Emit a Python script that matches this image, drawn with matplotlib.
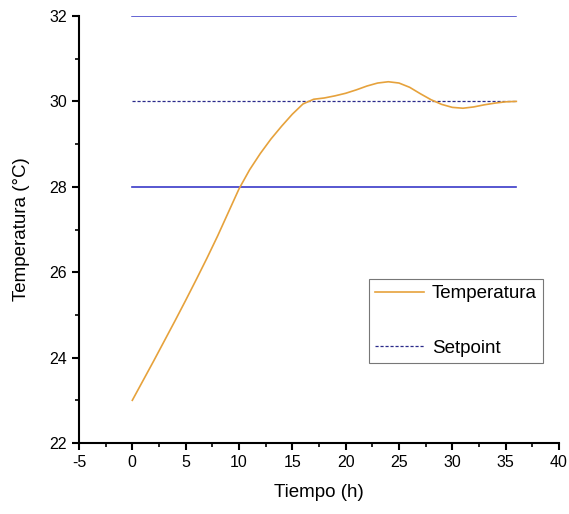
import matplotlib
matplotlib.use("Agg")
import matplotlib.pyplot as plt
from matplotlib.ticker import MultipleLocator

plt.rcParams['font.family'] = ['Liberation Sans', 'DejaVu Sans']
plt.rcParams['axes.unicode_minus'] = False

tiempo = list(range(0, 37))
temperatura = [23.0, 23.46, 23.92, 24.39, 24.86, 25.34, 25.83, 26.33, 26.85, 27.40,
               27.95, 28.40, 28.78, 29.12, 29.42, 29.70, 29.94, 30.05, 30.08, 30.13,
               30.19, 30.27, 30.36, 30.43, 30.46, 30.43, 30.33, 30.18, 30.04, 29.93,
               29.86, 29.84, 29.87, 29.92, 29.96, 29.99, 30.0]
setpoint = 30
limite_inf = 28
limite_sup = 32
x_rango = [0, 36]

fig = plt.figure(figsize=(5.69, 5.14), dpi=100)
ax = fig.add_axes([0.1388, 0.1381, 0.8436, 0.8308])

ax.plot(x_rango, [limite_sup, limite_sup], color='#3a3ac8', lw=1.1, zorder=2)
ax.plot(x_rango, [limite_inf, limite_inf], color='#3a3ac8', lw=1.2, zorder=2)
ax.plot(tiempo, temperatura, color='#e6a23c', lw=1.2, label='Temperatura', zorder=3)
ax.plot(x_rango, [setpoint, setpoint], color='#2a2a8a', lw=0.9, ls=(0, (2.5, 1.5)),
        label='Setpoint', zorder=2)

ax.set_xlim(-5, 40)
ax.set_ylim(22, 32)
ax.xaxis.set_major_locator(MultipleLocator(5))
ax.xaxis.set_minor_locator(MultipleLocator(2.5))
ax.yaxis.set_major_locator(MultipleLocator(2))
ax.yaxis.set_minor_locator(MultipleLocator(1))

for s in ['top', 'right']:
    ax.spines[s].set_visible(False)
for s in ['left', 'bottom']:
    ax.spines[s].set_linewidth(1.5)
ax.tick_params(which='major', direction='out', length=5, width=1.5, labelsize=11.5)
ax.tick_params(which='minor', direction='out', length=3, width=1.2)

ax.set_xlabel('Tiempo (h)', fontsize=13.5, labelpad=10)
ax.set_ylabel('Temperatura (°C)', fontsize=13.5, labelpad=14)

leg = ax.legend(loc='upper left', bbox_to_anchor=(0.604, 0.385), fontsize=13.5,
                frameon=True, fancybox=False, edgecolor='#555555', labelspacing=2.0,
                handlelength=2.6, handletextpad=0.4, borderpad=0.35, borderaxespad=0)
leg.get_frame().set_linewidth(0.8)

fig.savefig('out.png', dpi=100)
